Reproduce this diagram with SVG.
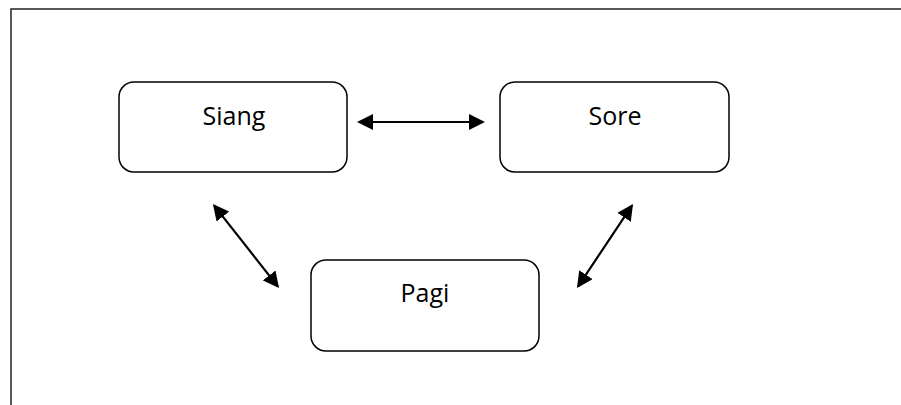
<svg xmlns="http://www.w3.org/2000/svg" width="901" height="405" viewBox="0 0 901 405">
<style>
.box{fill:#fff;stroke:#000;stroke-width:1.5}
.lbl{font-family:"Open Sans","Noto Sans",sans-serif;font-size:25px;fill:#000;text-anchor:middle}
.con{stroke:#000;stroke-width:2.2;fill:none;marker-start:url(#ah);marker-end:url(#ah)}
</style>
<defs>
<marker id="ah" viewBox="0 0 16 16" refX="14" refY="8" markerWidth="16" markerHeight="16" markerUnits="userSpaceOnUse" orient="auto-start-reverse">
<path d="M0,0 L16,8 L0,16 z" fill="#000"/>
</marker>
</defs>
<rect x="11" y="9" width="900" height="420" fill="#fff" stroke="#222" stroke-width="1.5"/>
<g id="siang"><rect class="box" x="119" y="82" width="228" height="90" rx="15"/><text class="lbl" x="234" y="125">Siang</text></g>
<g id="sore"><rect class="box" x="500" y="82" width="229" height="90" rx="15"/><text class="lbl" x="615" y="125">Sore</text></g>
<g id="pagi"><rect class="box" x="311" y="260" width="228" height="91" rx="15"/><text class="lbl" x="425" y="302">Pagi</text></g>
<g id="connectors">
<line class="con" x1="359" y1="122" x2="483" y2="122"/>
<line class="con" x1="214.2" y1="205.6" x2="277.8" y2="286.4"/>
<line class="con" x1="631.9" y1="205.7" x2="578.1" y2="286.3"/>
</g>
</svg>
